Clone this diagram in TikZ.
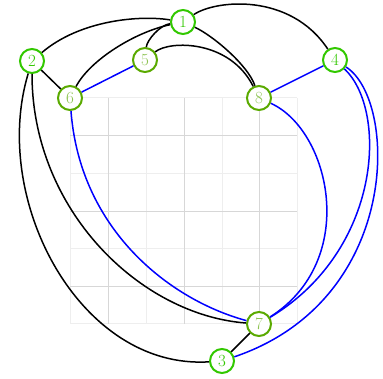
\documentclass[tikz,border=0pt]{standalone}
\usepackage{tikz}
\definecolor{colA}{RGB}{50,200,0}
\definecolor{colB}{RGB}{90,170,0}
\definecolor{colBt}{RGB}{140,195,80}
\definecolor{gridlight}{RGB}{238,238,238}
\definecolor{griddark}{RGB}{215,215,215}
\begin{document}
\begin{tikzpicture}[x=1pt,y=-1pt,
  vA/.style={circle,draw=colA,text=colA,line width=2pt,fill=white,minimum size=24pt,inner sep=0pt,font=\fontsize{17}{20}\selectfont},
  vB/.style={circle,draw=colB,text=colBt,line width=2pt,fill=white,minimum size=24pt,inner sep=0pt,font=\fontsize{17}{20}\selectfont},
  eK/.style={draw=black,line width=1.5pt},
  eU/.style={draw=blue,line width=1.5pt},
  gl/.style={draw=gridlight,line width=1pt},
  gd/.style={draw=griddark,line width=1pt}]
\useasboundingbox (0,0) rectangle (383,379);
% grid
\foreach \x in {70,146,222,297} {\draw[gl] (\x,98) -- (\x,324);}
\foreach \y in {98,174,249,324} {\draw[gl] (70,\y) -- (297,\y);}
\foreach \x in {108,184,259} {\draw[gd] (\x,98) -- (\x,324);}
\foreach \y in {136,212,287} {\draw[gd] (70,\y) -- (297,\y);}
% nodes
\node[vA] (n1) at (183,22) {1};
\node[vA] (n2) at (32,61) {2};
\node[vA] (n3) at (222,361) {3};
\node[vA] (n4) at (335,60) {4};
\node[vB] (n5) at (145,60) {5};
\node[vB] (n6) at (70,98) {6};
\node[vB] (n7) at (259,324) {7};
\node[vB] (n8) at (259,98) {8};
% black edges
\draw[eK] (n2) -- (n6);
\draw[eK] (n7) -- (n3);
\draw[eK] (n2) .. controls (80,20) and (140,15) .. (n1);
\draw[eK] (n6) .. controls (90,60) and (135,32) .. (n1);
\draw[eK] (n1) .. controls (160,25) and (147,40) .. (n5);
\draw[eK] (n1) .. controls (212,35) and (248,65) .. (n8);
\draw[eK] (n1) .. controls (215,0) and (290,-8) .. (n4);
\draw[eK] (n5) .. controls (170,40) and (230,40) .. (n8);
\draw[eK] (n2) .. controls (32,210) and (140,315) .. (n7);
\draw[eK] (n2) .. controls (-10,200) and (80,370) .. (n3);
% blue edges
\draw[eU] (n6) -- (n5);
\draw[eU] (n8) -- (n4);
\draw[eU] (n6) .. controls (80,230) and (170,300) .. (n7);
\draw[eU] (n8) .. controls (330,130) and (360,260) .. (n7);
\draw[eU] (n4) .. controls (388,110) and (382,250) .. (n7);
\draw[eU] (n4) .. controls (398,100) and (402,300) .. (n3);
\end{tikzpicture}
\end{document}
